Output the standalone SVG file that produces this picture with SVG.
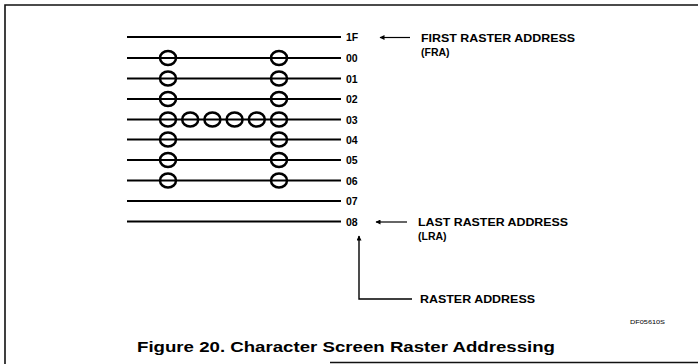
<svg xmlns="http://www.w3.org/2000/svg" width="698" height="364" viewBox="0 0 698 364">
<defs>
<style>
.ln{stroke:#000;stroke-width:1.8;fill:none}
.c{stroke:#000;stroke-width:2.5;fill:none}
.t{font-family:"Liberation Sans",Arial,sans-serif;font-weight:bold;font-size:10.5px;fill:#000}
.cap{font-family:"Liberation Sans",Arial,sans-serif;font-weight:bold;font-size:15.5px;fill:#000}
.sm{font-family:"Liberation Sans",Arial,sans-serif;font-size:6px;fill:#000}
.fr{stroke:#111;stroke-width:1.6;fill:none}
</style>
<marker id="ah" viewBox="0 0 10 10" refX="9" refY="5" markerWidth="8" markerHeight="5" orient="auto" markerUnits="userSpaceOnUse">
<path d="M0,0 L10,5 L0,10 z" fill="#000"/>
</marker>
</defs>
<rect width="698" height="364" fill="#fff"/>
<g id="frame">
<path class="fr" d="M5,364 V5 H698"/>
<path class="fr" d="M330,362.5 H698"/>
</g>
<g id="rasterlines">
<g id="row-1F"><line class="ln" x1="127" y1="37" x2="341" y2="37"/><text class="t" x="346" y="41">1F</text></g>
<g id="row-00"><line class="ln" x1="127" y1="58" x2="341" y2="58"/><text class="t" x="346" y="62">00</text></g>
<g id="row-01"><line class="ln" x1="127" y1="78.5" x2="341" y2="78.5"/><text class="t" x="346" y="82.5">01</text></g>
<g id="row-02"><line class="ln" x1="127" y1="99" x2="341" y2="99"/><text class="t" x="346" y="103">02</text></g>
<g id="row-03"><line class="ln" x1="127" y1="119.5" x2="341" y2="119.5"/><text class="t" x="346" y="123.5">03</text></g>
<g id="row-04"><line class="ln" x1="127" y1="139.5" x2="341" y2="139.5"/><text class="t" x="346" y="143.5">04</text></g>
<g id="row-05"><line class="ln" x1="127" y1="160" x2="341" y2="160"/><text class="t" x="346" y="164">05</text></g>
<g id="row-06"><line class="ln" x1="127" y1="180.5" x2="341" y2="180.5"/><text class="t" x="346" y="184.5">06</text></g>
<g id="row-07"><line class="ln" x1="127" y1="201" x2="341" y2="201"/><text class="t" x="346" y="205">07</text></g>
<g id="row-08"><line class="ln" x1="127" y1="221.5" x2="341" y2="221.5"/><text class="t" x="346" y="225.5">08</text></g>
</g>
<g id="dots">
<ellipse class="c" cx="168" cy="58" rx="8" ry="7"/><ellipse class="c" cx="279" cy="58" rx="8" ry="7"/>
<ellipse class="c" cx="168" cy="78.5" rx="8" ry="7"/><ellipse class="c" cx="279" cy="78.5" rx="8" ry="7"/>
<ellipse class="c" cx="168" cy="99" rx="8" ry="7"/><ellipse class="c" cx="279" cy="99" rx="8" ry="7"/>
<ellipse class="c" cx="168" cy="119.5" rx="8" ry="7"/><ellipse class="c" cx="190.2" cy="119.5" rx="8" ry="7"/><ellipse class="c" cx="212.4" cy="119.5" rx="8" ry="7"/><ellipse class="c" cx="234.6" cy="119.5" rx="8" ry="7"/><ellipse class="c" cx="256.8" cy="119.5" rx="8" ry="7"/><ellipse class="c" cx="279" cy="119.5" rx="8" ry="7"/>
<ellipse class="c" cx="168" cy="139.5" rx="8" ry="7"/><ellipse class="c" cx="279" cy="139.5" rx="8" ry="7"/>
<ellipse class="c" cx="168" cy="160" rx="8" ry="7"/><ellipse class="c" cx="279" cy="160" rx="8" ry="7"/>
<ellipse class="c" cx="168" cy="180.5" rx="8" ry="7"/><ellipse class="c" cx="279" cy="180.5" rx="8" ry="7"/>
</g>
<g id="connectors">
<line x1="410" y1="37.5" x2="380" y2="37.5" stroke="#000" stroke-width="1.2" marker-end="url(#ah)"/>
<line x1="407" y1="222" x2="376" y2="222" stroke="#000" stroke-width="1.2" marker-end="url(#ah)"/>
<path d="M412,299 H359 V236" fill="none" stroke="#000" stroke-width="1.4" marker-end="url(#ah)"/>
</g>
<g id="fra-label">
<text class="t" x="421" y="41.5" textLength="154" lengthAdjust="spacingAndGlyphs">FIRST RASTER ADDRESS</text>
<text class="t" x="421" y="55.5">(FRA)</text>
</g>
<g id="lra-label">
<text class="t" x="418" y="226" textLength="150" lengthAdjust="spacingAndGlyphs">LAST RASTER ADDRESS</text>
<text class="t" x="418" y="240">(LRA)</text>
</g>
<g id="ra-label">
<text class="t" x="420" y="303" textLength="115" lengthAdjust="spacingAndGlyphs">RASTER ADDRESS</text>
</g>
<text class="sm" x="630" y="324" textLength="35" lengthAdjust="spacingAndGlyphs">DF05610S</text>
<text class="cap" x="137" y="352" textLength="418" lengthAdjust="spacingAndGlyphs">Figure 20. Character Screen Raster Addressing</text>
</svg>
